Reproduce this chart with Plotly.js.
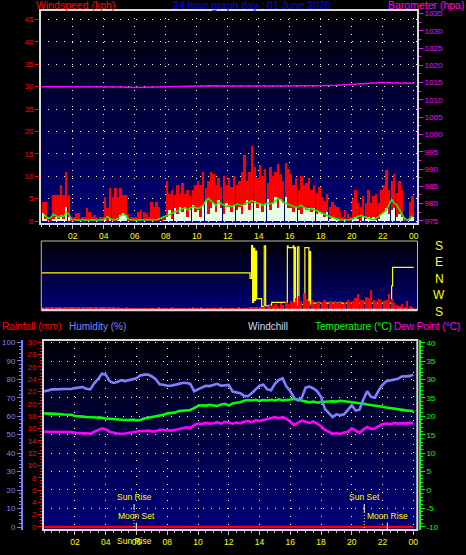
<!DOCTYPE html>
<html><head><meta charset="utf-8">
<script src="https://cdn.plot.ly/plotly-3.0.1.min.js"></script>
<style>html,body{margin:0;padding:0;background:#000;}#chart{width:466px;height:555px;}</style>
</head><body><div id="chart"></div>
<script>
// ---------- DATA ----------
const xTickVals = [2,4,6,8,10,12,14,16,18,20,22,24];
const xTickText = ['02','04','06','08','10','12','14','16','18','20','22','00'];
const windTickVals = [0,5,10,15,20,25,30,35,40,45];
const windTickText = ['0','5','10','15','20','35','30','35','40','45'];
const tempTickVals = [-10,-5,0,5,10,15,20,25,30,35,40];
const tempTickText = ['-10','-5','0','5','10','15','20','35','30','35','40'];
const dirLabels = ['S','E','N','W','S'];
const dirLabelVals = [180,90,0,-90,-180];

// wind gust (kph), 10-minute slots
const windGust = [
 4.3,4.3,1,1,5.8,5.8, 5.8,8,5.8,11,5.8,1, 1,1.7,1.7,1,1,2.8, 2,1,1.3,1,1,1,
 5.4,3,7.3,5.4,7.3,5.4, 7.3,5.8,5.8,1.5,1,1, 1,2,2.5,2,1.5,1, 4.3,3.2,4.3,3.2,1,1,
 9,6,7,5.8,8,6, 8.4,6,7,5.5,7,8, 9,8,11,7.3,9,11, 10.6,8,9.5,7.6,10,8,
 9.5,7.6,10,8,9,11, 14.7,9,11,16.7,12,9.5, 12.5,10,11.5,8.4,12,10, 11,12.8,10.5,9,13,11.5,
 10.6,8,9.5,7,10,8, 8.4,9.5,7,8,6.2,7.5, 5.4,4.5,6,3.2,4.3,3.5, 3.2,2,1,2.5,1.5,1,
 5,6.9,4,3.2,5.5,4, 6.9,4,5.5,6,4,7, 8,11.4,7,9,10.5,6.2, 9,7,1,0.5,4.3,5.5
];
// average wind speed bars (kph), 10-minute slots
const windAvg = [
 1.7,0.5,0,0,0.5,1, 0.5,1,0.5,3.2,1,0, 0,0,0,0,0,0, 0,0,0,0,0,0,
 0.5,0,0.5,0,0,0.3, 1.3,1.7,1.3,0,0,0, 0,0,0,0,0,0, 0,0,0,0,0,0.3,
 1,2.5,0.5,3,1.5,3.2, 2,3.2,1,2.5,3.5,2, 2.5,1,3.5,4.5,1.5,3, 4,2,4.7,3,1.5,4,
 3.2,2,3.5,2.5,3.2,1.5, 3.5,4.7,2.5,4,4.5,3, 4,2,3.8,5,2.5,4, 5.4,3,5,4,5.4,3,
 3,2,3,2.5,1.5,3, 2.5,3,2,2.8,1.5,2, 1.5,1,2,0.5,1,0.5, 0.3,0,0,0.5,0,0,
 0.5,1,0.5,0,1,0.5, 1,0.5,1,0.3,0.5,1.5, 2,2.8,1.5,2.5,3,1, 1.5,1,0,0,0.5,1
];
// smoothed wind speed line (kph), 10-minute slots
const windLine = [
 1.7,1.2,0.5,0.8,1.5,1.2, 0.8,1.2,1,2,1.5,0.3, 0.2,0.2,0.2,0.2,0.2,0.2, 0.2,0.2,0.2,0.2,0.2,0.2,
 0.5,1,0.5,0.3,0.3,0.5, 1.2,1.5,1.3,0.5,0.2,0.2, 0.2,0.2,0.2,0.2,0.2,0.2, 0.2,0.2,0.3,0.5,0.8,1,
 1.2,1.5,1.8,2,2.2,2.5, 2.8,3,2.5,2.8,3.2,3, 2.8,3,3.5,4.5,5,4.5, 4,3.5,4.2,3.8,3.5,3.2,
 3.5,3.2,3.5,3.8,3.6,3.4, 3.8,4,4.2,4.5,4.2,4, 3.8,3.5,3.8,4,3.8,4, 4.5,5,4.8,4.2,4,3.8,
 3.5,3.2,3,3.2,3.5,3, 2.8,2.5,2.8,2.5,2.2,2, 1.8,1.5,1.2,1,0.8,0.6, 0.4,0.3,0.2,0.2,0.3,0.3,
 0.5,0.8,1,1.2,1,0.8, 0.6,0.4,0.3,0.6,1,1.5, 2,2.5,3.5,4.8,4,3.5, 2.5,1.5,0.5,0.2,0.5,1.2
];
// barometer (hPa), hourly
const baroHourly = [1013.8,1013.8,1013.9,1013.9,1013.8,1013.7,1013.6,1013.7,1013.9,1014.0,1014.1,1014.1,1014.0,
 1014.0,1013.9,1013.9,1013.9,1014.0,1014.1,1014.2,1014.4,1014.6,1015.0,1014.9,1014.8];
// wind direction (degrees, W negative), step changes
const dirHours = [0,13.44,13.54,13.61,13.67,13.74,13.80,13.87,14.19,14.36,14.45,14.73,14.84,15.85,15.9,16.23,16.28,16.34,16.38,16.51,16.60,16.98,17.24,17.31,17.35,22.58,22.64,24];
const dirValues = [31,1,179,-130,165,-120,150,-110,-154,178,-150,-145,-130,178,168,178,-163,168,-145,173,-142,168,-145,146,-135,-41,61,61];
// red trace in direction panel, 10-minute slots
const dirPanelRed = [
 0.9,0.9,0.8,0.9,0.8,0.9, 0.8,0.9,0.9,0.8,0.9,0.8, 0.9,0.8,0.9,0.8,0.8,0.9, 0.9,0.9,0.8,0.9,0.9,0.8,
 0.8,0.9,0.9,0.8,0.8,0.8, 0.7,0.7,0.8,0.7,0.7,0.7, 0.7,0.7,0.7,0.7,0.7,0.7, 0.7,0.7,0.7,0.8,0.7,0.7,
 0.7,0.7,0.8,0.7,0.7,0.7, 0.7,0.7,0.7,0.7,0.8,0.7, 0.7,0.8,0.7,0.7,0.7,0.7, 0.7,0.7,0.7,0.8,0.7,0.7,
 0.7,0.7,0.7,0.7,0.8,0.7, 0.7,0.7,0.8,1.0,1.0,1.0, 1.0,1.0,1.2,1.0,1.5,1.2, 1.8,1.2,2.0,1.5,2.2,1.8,
 2.5,2.2,3.5,4.0,2.5,4.8, 3.2,2.5,3.0,1.8,2.0,2.5, 2.2,2.8,1.8,2.5,2.0,2.6, 2.0,2.5,1.8,2.2,2.8,2.3,
 2.5,3.5,4.5,3.0,2.8,3.8, 3.5,5.8,3.0,2.5,3.2,2.8, 2.5,3.0,4.5,3.2,2.0,1.5, 1.2,1.8,1.0,2.6,1.2,1.0
];
// humidity (%), 15-minute steps
const humidity = [
 73.3,73.8,74.5,74.5,74.8,74.7,74.7,74.7,75.2,75.4,75.8,74.8,74.5,77.8,80,83,
 82.5,79,78,78.5,79.5,79,79.5,80,80.5,82,82.5,82.5,81.5,80,77.3,77,
 76.5,76.5,76.8,77.5,78,78,77.5,73.5,74.5,75.5,76.5,76.3,76.8,77.5,76.5,76.8,
 76.9,73.3,72.8,72.4,71,70.8,72.5,74.5,76.5,77,74.5,74,77.5,79.5,80.5,76,
 73.5,70,68.5,70,75.5,76,75,73.5,70.5,64,62,59.5,61,60.5,61,63.5,
 66,63,63.5,69,73.5,70.5,70,74,77,79,79.5,80,80.2,81.5,81.5,81.7,
 82.5
];
// temperature (°C), 15-minute steps
const temperature = [
 20.8,20.8,20.7,20.6,20.6,20.5,20.5,20.4,20.1,19.9,19.9,19.8,19.8,19.8,19.7,19.6,
 19.4,19.3,19.3,19.0,19.1,19.0,19.0,19.1,18.9,19.0,19.4,19.6,19.6,19.8,20.0,20.4,
 20.8,20.9,21.0,21.4,21.5,21.6,21.7,22.2,22.8,23.0,22.9,23.1,22.9,22.8,23.2,23.4,
 22.9,23.5,23.7,23.8,24.2,24.4,24.3,24.5,24.2,24.4,24.3,24.5,24.3,24.6,24.3,24.4,
 24.6,24.7,24.5,24.2,23.9,23.8,24.0,23.7,23.9,24.0,24.0,24.1,24.0,24.2,24.1,24.0,
 23.8,23.7,23.6,23.4,23.2,23.1,23.0,22.8,22.6,22.4,22.2,22.0,21.9,21.8,21.6,21.5,
 21.4
];
// dew point (°C), 15-minute steps
const dewPoint = [
 15.8,15.8,15.9,15.8,15.8,15.7,15.8,15.7,15.5,15.4,15.4,15.3,15.3,15.8,16.3,16.7,
 16.4,15.8,15.5,15.3,15.2,15.3,15.5,15.8,15.9,16.0,16.0,16.1,15.9,15.9,16.3,16.2,
 16.0,16.1,16.3,16.6,16.8,17.0,16.8,17.6,18.0,17.9,18.2,18.0,18.1,18.4,18.0,18.5,
 18.3,18.0,18.3,18.1,18.5,18.7,18.4,18.9,18.7,19.0,19.3,19.6,19.8,19.5,19.7,19.3,
 18.4,17.6,18.3,18.8,18.5,18.2,18.6,18.0,17.3,16.3,15.8,15.3,15.4,15.2,15.6,15.8,
 16.7,16.0,15.5,16.4,17.1,16.6,16.7,17.3,17.9,18.0,17.8,18.2,18.0,18.1,18.0,18.2,
 18.1
];
// rainfall (mm), hourly
const rainfall = [0,0,0,0,0,0,0,0,0,0,0,0,0,0,0,0,0,0,0,0,0,0,0,0,0];
// sun / moon events (hours)
const sunRise = 5.84, moonSet = 5.99, sunSet = 20.81, moonRise = 22.31;

// ---------- BUILD ----------
const F = 'Liberation Sans, Arial, sans-serif';
const slot10 = windGust.map((_, i) => i / 6 + 1 / 12);
const slot15 = humidity.map((_, i) => i * 0.25);
const hourly = baroHourly.map((_, i) => i);
const rainHours = rainfall.map((_, i) => i);

function grad(c0, c1) {
  const cv = document.createElement('canvas');
  cv.width = 4; cv.height = 256;
  const ctx = cv.getContext('2d');
  const g = ctx.createLinearGradient(0, 0, 0, 256);
  g.addColorStop(0, c0); g.addColorStop(1, c1);
  ctx.fillStyle = g; ctx.fillRect(0, 0, 4, 256);
  return cv.toDataURL();
}
const px = v => v / 466, py = v => 1 - v / 555;
const xTop = [px(40), px(418)], yTop = [py(224), py(10)];
const xMid = [px(41.3), px(417.5)], yMid = [py(310), py(241)];
const xBot = [px(43), px(417.3)], yBot = [py(530), py(340)];
// direction panel: signed degrees -> pixel row of the S/E/N/W labels
const dirRange = [-172, 204.5];
const dirToPy = d => 310 - (d - dirRange[0]) / (dirRange[1] - dirRange[0]) * 69;

const traces = [
  {type:'bar', x:slot10, y:windGust, xaxis:'x', yaxis:'y', width:0.155, marker:{color:'#ff0000', line:{width:0}}},
  {type:'bar', x:slot10, y:windAvg, xaxis:'x', yaxis:'y', width:0.155, marker:{color:'#e4ffe4', line:{width:0}}},
  {type:'scatter', mode:'lines', x:slot10, y:windLine, xaxis:'x', yaxis:'y', line:{color:'#00ff00', width:1.5}},
  {type:'scatter', mode:'lines', x:hourly, y:baroHourly, xaxis:'x', yaxis:'y2', line:{color:'#ff00ff', width:1.5}},
  {type:'bar', x:slot10, y:dirPanelRed, xaxis:'x2', yaxis:'y4', width:0.14, marker:{color:'#ff0000', line:{width:0}}},
  {type:'scatter', mode:'lines', x:dirHours, y:dirValues, xaxis:'x2', yaxis:'y3', line:{color:'#ffff00', width:1.2, shape:'hv'}},
  {type:'scatter', mode:'lines', x:rainHours, y:rainfall, xaxis:'x3', yaxis:'y7', line:{color:'#ff0000', width:2.5}},
  {type:'scatter', mode:'lines', x:slot15, y:humidity, xaxis:'x3', yaxis:'y6', line:{color:'#8080ff', width:2.6}},
  {type:'scatter', mode:'lines', x:slot15, y:temperature, xaxis:'x3', yaxis:'y5', line:{color:'#00ff00', width:2.6}},
  {type:'scatter', mode:'lines', x:slot15, y:dewPoint, xaxis:'x3', yaxis:'y5', line:{color:'#ff00ff', width:2.6}}
];

const gridDash = '1px,7px';
const xTickCommon = {
  tickmode:'array', tickvals:xTickVals, ticktext:xTickText,
  tickfont:{color:'#ffff00', size:8.5, family:F}, ticks:'outside', ticklen:4, tickcolor:'#c0c0c0',
  minor:{tickmode:'linear', tick0:0, dtick:0.5, ticks:'outside', ticklen:2, tickcolor:'#c0c0c0'},
  showgrid:true, gridcolor:'#ffffff', griddash:gridDash, gridwidth:1, zeroline:false, showline:false
};

const annotations = [
  {text:'Windspeed (kph)', x:px(75), y:py(5), color:'#ff0000', size:10.5},
  {text:'24 hour graph day : 01 June 2026', x:px(251.7), y:py(5), color:'#0000ff', size:10.5},
  {text:'Barometer (hpa)', x:px(465.5), y:py(5), color:'#ff00ff', xanchor:'right', size:10.5},
  {text:'Rainfall (mm)', x:0, y:py(326.7), color:'#ff0000', xanchor:'left', size:10},
  {text:'Humidity (%)', x:px(66.7), y:py(326.7), color:'#8080ff', xanchor:'left', size:10},
  {text:'Windchill', x:px(246), y:py(326.7), color:'#d0d8ff', xanchor:'left', size:10},
  {text:'Temperature (°C)', x:px(312.7), y:py(326.7), color:'#00ff00', xanchor:'left', size:10},
  {text:'Dew Point (°C)', x:px(461.7), y:py(326.7), color:'#ff00ff', xanchor:'right', size:10}
].map(a => ({text:a.text, x:a.x, y:a.y, xref:'paper', yref:'paper', showarrow:false,
  xanchor:a.xanchor || 'center', yanchor:'middle', font:{family:F, size:a.size, color:a.color}}));

dirLabels.forEach((t, i) => annotations.push({text:t, xref:'paper', yref:'paper', x:px(439),
  y:py(dirToPy(dirLabelVals[i]) + 0.5),
  showarrow:false, xanchor:'center', yanchor:'middle', font:{family:F, size:12, color:'#ffff00'}}));

const ev = (t, x, yy) => ({text:t, xref:'x3', yref:'paper', x:x, y:py(yy), showarrow:false, xanchor:'center',
  yanchor:'middle', font:{family:F, size:8.5, color:'#ffff00'}});
annotations.push(ev('Sun Rise', sunRise, 497.3), ev('Moon Set', moonSet, 516),
  ev('Sun Set', sunSet, 497.3), ev('Moon Rise', moonRise, 516), ev('Sun Rise', sunRise, 541));

const vline = (x, y0, y1, color, dash, w) => ({type:'line', xref:'x3', yref:'paper', x0:x, x1:x, y0:py(y0), y1:py(y1),
  line:{color:color, width:w || 1, dash:dash || 'solid'}, layer:'above'});
const shapes = [
  {type:'rect', xref:'x domain', yref:'y domain', x0:0, x1:1, y0:0, y1:1, line:{color:'#d8d8d8', width:2}, layer:'above'},
  {type:'rect', xref:'x2 domain', yref:'y3 domain', x0:0, x1:1, y0:0, y1:1, line:{color:'#b8b8b8', width:1}, layer:'above'},
  {type:'line', xref:'x2 domain', yref:'y3 domain', x0:0, x1:1, y0:0, y1:0, line:{color:'#d8d8d8', width:2.5}, layer:'above'},
  {type:'rect', xref:'x3 domain', yref:'y5 domain', x0:0, x1:1, y0:0, y1:1, line:{color:'#d8d8d8', width:2}, layer:'above'},
  vline(sunRise, 504, 510, '#ffffff'), vline(sunRise, 511, 530, '#ffff00', '1px,2px'),
  vline(moonSet, 522.7, 530, '#ffffff'),
  vline(sunSet, 504, 512, '#ffffff'), vline(sunSet, 512, 530, '#ffff00', '1px,2px'),
  vline(moonRise, 522.7, 530, '#ffffff')
];

const img = (x, y, c0, c1) => ({source:grad(c0, c1), xref:'paper', yref:'paper', x:x[0], y:y[1],
  sizex:x[1] - x[0], sizey:y[1] - y[0], sizing:'stretch', xanchor:'left', yanchor:'top', layer:'below'});

const layout = {
  width:466, height:555, margin:{l:0, r:0, t:0, b:0, pad:0},
  paper_bgcolor:'#000000', plot_bgcolor:'rgba(0,0,0,0)',
  showlegend:false, barmode:'overlay', bargap:0,
  font:{family:F, color:'#ffffff'},
  images:[img(xTop, yTop, '#000004', '#00007c'), img(xMid, yMid, '#000004', '#000078'), img(xBot, yBot, '#000006', '#00007c')],
  xaxis:Object.assign({domain:xTop, range:[-0.11, 24.28], anchor:'y'}, xTickCommon),
  yaxis:{domain:yTop, range:[-0.67, 47.1], anchor:'x', tickmode:'array', tickvals:windTickVals, ticktext:windTickText,
    tickfont:{color:'#ff0000', size:8, family:F}, ticks:'outside', ticklen:4, tickcolor:'#ff0000',
    showgrid:true, gridcolor:'#ffffff', griddash:gridDash, gridwidth:1, zeroline:false, showline:false},
  yaxis2:{overlaying:'y', side:'right', anchor:'x', range:[974.1, 1036], tickmode:'linear', tick0:975, dtick:5,
    tickfont:{color:'#ff00ff', size:8, family:F}, ticks:'outside', ticklen:4, tickcolor:'#ff00ff',
    minor:{tickmode:'linear', tick0:975, dtick:2.5, ticks:'outside', ticklen:2, tickcolor:'#ff00ff'},
    showgrid:false, zeroline:false, showline:false},
  xaxis2:{domain:xMid, range:[-0.03, 24.25], anchor:'y3', showticklabels:false, ticks:'', showgrid:false, zeroline:false},
  yaxis3:{domain:yMid, range:dirRange, anchor:'x2', showticklabels:false, ticks:'', showgrid:false, zeroline:false},
  yaxis4:{overlaying:'y3', anchor:'x2', range:[0, 20], visible:false},
  xaxis3:Object.assign({domain:xBot, range:[-0.08, 24.26], anchor:'y5'}, xTickCommon),
  yaxis5:{domain:yBot, anchor:'free', position:px(419.3), side:'right', range:[-10.9, 40.73],
    tickmode:'array', tickvals:tempTickVals, ticktext:tempTickText,
    tickfont:{color:'#00ff00', size:8, family:F}, ticks:'outside', ticklen:4, tickcolor:'#00ff00',
    minor:{tickmode:'linear', tick0:0, dtick:1, ticks:'outside', ticklen:2, tickcolor:'#00ff00'},
    showline:true, linecolor:'#00ff00', linewidth:1.5,
    showgrid:true, gridcolor:'#ffffff', griddash:gridDash, gridwidth:1, zeroline:false},
  yaxis6:{overlaying:'y5', anchor:'free', position:px(22), side:'left', range:[-1.62, 101.25],
    tickmode:'linear', tick0:0, dtick:10, tickfont:{color:'#8080ff', size:8, family:F},
    ticks:'outside', ticklen:4, tickcolor:'#8080ff',
    minor:{tickmode:'linear', tick0:0, dtick:2, ticks:'outside', ticklen:2, tickcolor:'#8080ff'},
    showline:true, linecolor:'#8080ff', linewidth:2, showgrid:false, zeroline:false},
  yaxis7:{overlaying:'y5', anchor:'x3', side:'left', range:[-0.49, 30.37],
    tickmode:'linear', tick0:0, dtick:2, tickfont:{color:'#ff0000', size:8, family:F},
    ticks:'outside', ticklen:4, tickcolor:'#ff0000',
    minor:{tickmode:'linear', tick0:0, dtick:0.5, ticks:'outside', ticklen:2, tickcolor:'#ff0000'},
    showline:false, showgrid:false, zeroline:false},
  annotations:annotations,
  shapes:shapes
};

Plotly.newPlot('chart', traces, layout, {staticPlot:true, displayModeBar:false});
</script>
</body></html>
